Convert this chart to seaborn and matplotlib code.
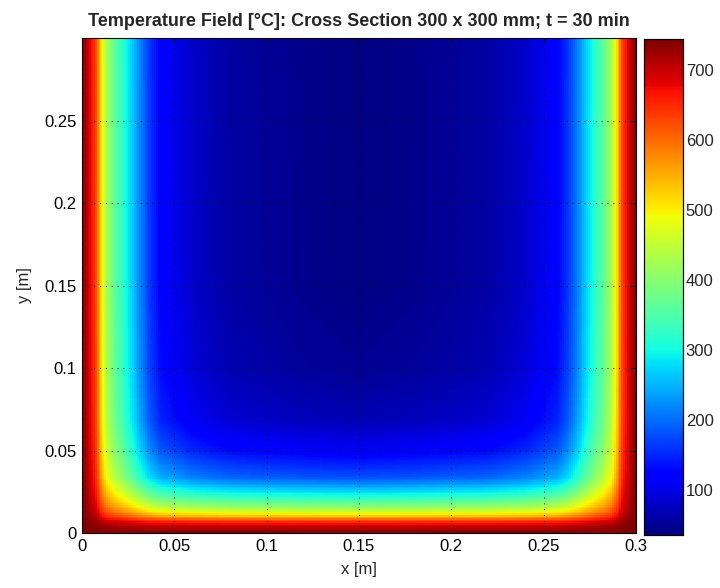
import numpy as np
import matplotlib
matplotlib.use("Agg")
import matplotlib.pyplot as plt
import seaborn as sns

# ------------------------------------------
# data
# ------------------------------------------

# temperature [°C] vs distance [m] from a heated side face (left / right)
side_dist = [0.000, 0.003, 0.007, 0.010, 0.0135, 0.019, 0.024, 0.028, 0.035, 0.042, 0.060, 0.080, 0.120, 0.150]
side_temp = [745, 705, 640, 530, 420, 350, 300, 255, 175, 122, 80, 56, 42, 36]

# temperature [°C] vs distance [m] from the heated bottom face
bottom_dist = [0.000, 0.004, 0.007, 0.0095, 0.012, 0.016, 0.022, 0.027, 0.034, 0.050, 0.068, 0.100, 0.150, 0.300]
bottom_temp = [745, 700, 640, 560, 480, 400, 310, 250, 175, 108, 66, 45, 36, 35]

t_min, t_max = 35, 745          # colour bar limits
section = 0.3                   # 300 x 300 mm
x_ticks = [0, 0.05, 0.1, 0.15, 0.2, 0.25, 0.3]
y_ticks = [0, 0.05, 0.1, 0.15, 0.2, 0.25]
cbar_ticks = [100, 200, 300, 400, 500, 600, 700]

# ------------------------------------------
# build field: three faces exposed, combine the 1D rises
# ------------------------------------------

n = 300
centers = (np.arange(n) + 0.5) * section / n


def rise(dist, d, t):
    return (np.interp(dist, d, t) - t_min) / (t_max - t_min)


r_left = rise(centers, side_dist, side_temp)
r_right = rise(section - centers, side_dist, side_temp)
r_bottom = rise(centers, bottom_dist, bottom_temp)
cool = (1 - r_left)[None, :] * (1 - r_right)[None, :] * (1 - r_bottom)[:, None]
field = t_min + (t_max - t_min) * (1 - cool)

# ------------------------------------------
# plot
# ------------------------------------------

sns.set_style("white")
plt.rcParams["font.family"] = ["Liberation Sans", "DejaVu Sans"]

fig = plt.figure(figsize=(7.2, 5.88), dpi=100)
ax = fig.add_axes([0.1139, 0.0935, 0.7694, 0.8418])
cax = fig.add_axes([0.8944, 0.0901, 0.0542, 0.8435])

sns.heatmap(field, cmap="jet", vmin=t_min, vmax=t_max, ax=ax, cbar_ax=cax,
            xticklabels=False, yticklabels=False, rasterized=True)
ax.invert_yaxis()

scale = n / section
ax.set_xticks([v * scale for v in x_ticks])
ax.set_xticklabels([f"{v:g}" for v in x_ticks], rotation=0)
ax.set_yticks([v * scale for v in y_ticks])
ax.set_yticklabels([f"{v:g}" for v in y_ticks], rotation=0)
ax.tick_params(direction="in", length=4, width=0.8, top=True, right=True,
               labelsize=12, colors="black", pad=4)
ax.set_axisbelow(False)
ax.grid(True, color="#111111", linestyle=(0, (1, 5)), linewidth=0.7)
for s in ax.spines.values():
    s.set_visible(True)
    s.set_linewidth(0.8)
    s.set_color("black")

ax.set_xlabel("x [m]", fontsize=12, labelpad=6)
ax.set_ylabel("y [m]", fontsize=12, labelpad=9)
ax.set_title("Temperature Field [°C]: Cross Section 300 x 300 mm; t = 30 min",
             fontsize=13, fontweight="bold", pad=9)

cax.set_yticks(cbar_ticks)
cax.tick_params(direction="in", length=4, width=0.8, left=True, right=True,
                labelsize=12, pad=2)
for s in cax.spines.values():
    s.set_visible(True)
    s.set_linewidth(0.8)
    s.set_color("black")

fig.savefig("out.png", dpi=100)
